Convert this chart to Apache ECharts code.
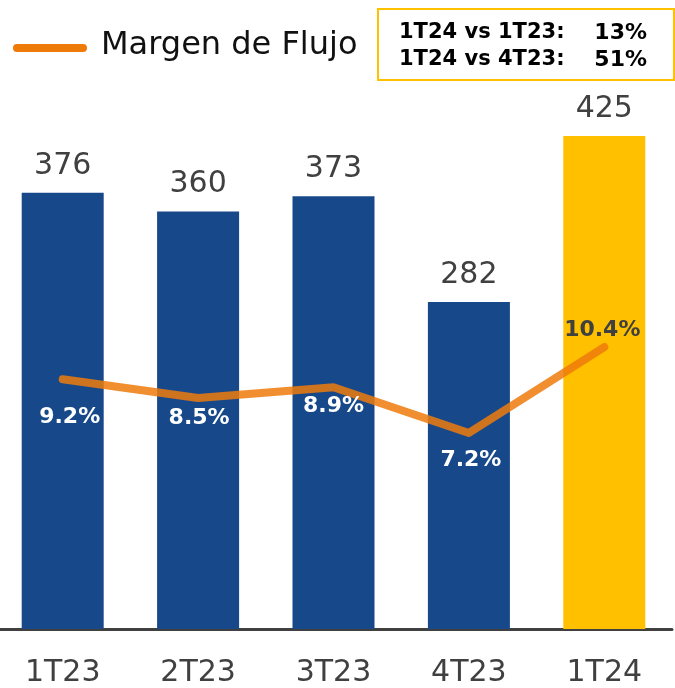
<!DOCTYPE html>
<html>
<head>
<meta charset="utf-8">
<script src="https://cdn.jsdelivr.net/npm/echarts@6/dist/echarts.min.js"></script>
<style>
html,body{margin:0;padding:0;background:#fff;overflow:hidden;width:675px;height:688px}
#wrap{position:relative;width:675px;height:688px;overflow:hidden}
#c{position:absolute;left:-5px;top:0;width:682px;height:688px}
</style>
</head>
<body>
<div id="wrap"><div id="c"></div></div>
<script>
var categories = ['1T23', '2T23', '3T23', '4T23', '1T24'];
var flujo = [376, 360, 373, 282, 425];
var margen = [9.2, 8.5, 8.9, 7.2, 10.4];
var margenLabels = ['9.2%', '8.5%', '8.9%', '7.2%', '10.4%'];
var legendName = 'Margen de Flujo';
var boxLines = [['1T24 vs 1T23:', '13%'], ['1T24 vs 4T23:', '51%']];

var labelOffsets = [[7, 38], [1, 20], [0, 19], [2, 27], [-2, -17]];
var labelColors = ['#fff', '#fff', '#fff', '#fff', '#404040'];

var chart = echarts.init(document.getElementById('c'), null, {renderer: 'canvas'});
var font = 'DejaVu Sans, Verdana, sans-serif';
var dx = 5; // container shifted left by 5px

var barData = flujo.map(function (v, i) {
  return {value: v, itemStyle: {color: i === flujo.length - 1 ? '#FFC000' : '#17498A'}};
});
var lineData = margen.map(function (v, i) {
  return {
    value: v,
    label: {
      show: true,
      position: 'inside',
      offset: labelOffsets[i],
      formatter: margenLabels[i],
      color: labelColors[i],
      fontFamily: font,
      fontWeight: 'bold',
      fontSize: 22
    }
  };
});

var graphics = [
  {type: 'line', shape: {x1: 17 + dx, y1: 48, x2: 83 + dx, y2: 48}, style: {stroke: '#EE7A0A', lineWidth: 8, lineCap: 'round'}},
  {type: 'text', x: 101 + dx, y: 46, style: {text: legendName, font: '32px ' + font, fill: '#111', textVerticalAlign: 'middle', textAlign: 'left'}},
  {type: 'rect', shape: {x: 378 + dx, y: 9, width: 296, height: 71}, style: {fill: '#fff', stroke: '#FFC000', lineWidth: 2}}
];
boxLines.forEach(function (ln, i) {
  graphics.push({type: 'text', x: 399 + dx, y: 33 + i * 27, style: {text: ln[0], font: 'bold 21px ' + font, fill: '#000', textVerticalAlign: 'middle', textAlign: 'left'}});
  graphics.push({type: 'text', x: 647 + dx, y: 33 + i * 27, style: {text: ln[1], font: 'bold 22px ' + font, fill: '#000', textVerticalAlign: 'middle', textAlign: 'right'}});
});

chart.setOption({
  animation: false,
  backgroundColor: '#fff',
  grid: {left: 0, right: 5, top: 49, bottom: 56, containLabel: false},
  xAxis: {
    type: 'category',
    data: categories,
    axisLine: {show: true, lineStyle: {color: '#404040', width: 3}},
    axisTick: {show: false},
    axisLabel: {color: '#404040', fontSize: 30, fontFamily: font, margin: 29}
  },
  yAxis: [
    {type: 'value', min: 0, max: 500, show: false, splitLine: {show: false}},
    {type: 'value', min: -0.1, max: 21.5, show: false, splitLine: {show: false}}
  ],
  graphic: graphics,
  series: [
    {
      type: 'bar',
      data: barData,
      barWidth: 82,
      yAxisIndex: 0,
      label: {show: true, position: 'top', distance: 12, color: '#404040', fontSize: 30, fontFamily: font}
    },
    {
      type: 'line',
      data: lineData,
      yAxisIndex: 1,
      symbol: 'circle',
      symbolSize: 0.01,
      showSymbol: true,
      itemStyle: {color: '#EE7A0A'},
      lineStyle: {color: '#EE7A0A', width: 8, opacity: 0.85, cap: 'round', join: 'round'},
      z: 5
    }
  ]
});
</script>
</body>
</html>
